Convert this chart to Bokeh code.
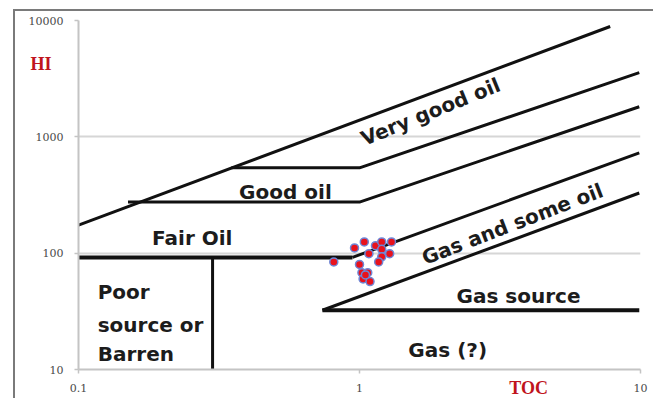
from bokeh.plotting import figure
from bokeh.models import (Range1d, FixedTicker, NumeralTickFormatter, LogAxis,
                          CustomJSTickFormatter, ColumnDataSource)
from bokeh.core.properties import value
from bokeh.embed import file_html
from bokeh.resources import INLINE

# Sample measurements: total organic carbon (wt%) and hydrogen index (mg HC/g TOC)
toc = [0.81, 0.96, 1.04, 1.00, 1.08, 1.14, 1.20, 1.30, 1.20, 1.28, 1.20, 1.17, 1.02, 1.07, 1.03, 1.09, 1.05]
hi = [84, 111, 125, 80, 99, 116, 125, 125, 108, 99, 93, 84, 68, 68, 60, 57, 65]

# Axis ticks
toc_ticks = [0.1, 1, 10]
hi_ticks = [10, 100, 1000, 10000]

# Zone boundaries as (TOC, HI) vertices
very_good_top_x = [0.1, 7.8]
very_good_top_y = [174, 8880]
good_top_x = [0.35, 1.0, 9.9]
good_top_y = [541, 541, 3560]
fair_top_x = [0.15, 1.0, 9.9]
fair_top_y = [275, 275, 1815]
fair_bottom_x = [0.1, 0.944]
fair_bottom_y = [92, 92]
gas_oil_top_x = [0.944, 9.9]
gas_oil_top_y = [92, 728]
gas_source_top_x = [0.738, 9.9]
gas_source_top_y = [32.3, 329]
gas_floor_x = [0.738, 9.9]
gas_floor_y = [32.3, 32.3]
poor_edge_x = [0.30, 0.30]
poor_edge_y = [10, 92]

# Zone names
flat_names = ["Good oil", "Fair Oil", "Gas source", "Gas (?)"]
flat_x = [0.545, 0.254, 3.68, 2.06]
flat_y = [336, 134.6, 42.6, 14.6]
poor_lines = ["Poor", "source or", "Barren"]
poor_y = [46.1, 23.9, 13.7]
tilted_names = ["Very good oil", "Gas and some oil"]
tilted_x = [1.79, 3.50]
tilted_y = [1643, 178]
tilted_deg = [22, 21]

# The plot sits inside a grey frame open to the right and bottom
p = figure(width=640, height=389, x_axis_type="log", y_axis_type="log",
           x_range=Range1d(0.1, 10), y_range=Range1d(10, 10000),
           output_backend="svg", toolbar_location=None,
           min_border_left=63, min_border_right=15, min_border_top=9, min_border_bottom=31)
p.margin = (9, 0, 0, 13)
p.styles = {"border-left": "2px solid #7a7a7a", "border-top": "2px solid #7a7a7a"}
p.outline_line_color = None
p.background_fill_color = "white"
p.border_fill_color = "white"

for ax in (p.xaxis[0], p.yaxis[0]):
    ax.axis_line_color = "#c4c4c4"
    ax.axis_line_width = 2
    ax.major_tick_line_color = "#c4c4c4"
    ax.major_tick_line_width = 1.5
    ax.major_tick_in = 0
    ax.major_tick_out = 4
    ax.minor_tick_line_color = None
    ax.major_label_text_font = "DejaVu Serif"
    ax.major_label_text_font_size = "11px"
    ax.major_label_text_color = "#4a4a4a"
    ax.formatter = NumeralTickFormatter(format="0.[0]")
p.xaxis.ticker = FixedTicker(ticks=toc_ticks)
p.yaxis.ticker = FixedTicker(ticks=hi_ticks)
p.xaxis.major_label_standoff = 10
p.yaxis.major_label_standoff = 11

p.xgrid.grid_line_color = None
p.ygrid.ticker = FixedTicker(ticks=hi_ticks)
p.ygrid.grid_line_color = "#d6d6d6"
p.ygrid.grid_line_width = 2


def title_axis(text, at, standoff):
    # A bare axis carrying one tick whose label is the axis title
    ax = LogAxis(ticker=FixedTicker(ticks=[at]),
                 formatter=CustomJSTickFormatter(code="return '%s'" % text))
    ax.axis_line_color = None
    ax.major_tick_line_color = None
    ax.minor_tick_line_color = None
    ax.major_tick_in = 0
    ax.major_tick_out = 0
    ax.major_label_standoff = standoff
    ax.major_label_text_font = "Liberation Serif"
    ax.major_label_text_font_size = "18px"
    ax.major_label_text_font_style = "bold"
    ax.major_label_text_color = "#c0141c"
    return ax


p.add_layout(title_axis("HI", 4200, -26), "left")
p.add_layout(title_axis("TOC", 4, -17), "below")

# Zone boundary lines
diag = dict(line_color="#111111", line_width=3, line_join="round")
p.line(very_good_top_x, very_good_top_y, **diag)
p.line(good_top_x, good_top_y, **diag)
p.line(fair_top_x, fair_top_y, **diag)
p.line(gas_oil_top_x, gas_oil_top_y, **diag)
p.line(gas_source_top_x, gas_source_top_y, **diag)
p.line(fair_bottom_x, fair_bottom_y, line_color="#111111", line_width=4)
p.line(gas_floor_x, gas_floor_y, line_color="#111111", line_width=4)
p.line(poor_edge_x, poor_edge_y, line_color="#111111", line_width=3)

# Samples
p.scatter(toc, hi, size=8, fill_color="#e8121c", line_color="#6f86d6", line_width=1.5)

# Zone labels
font = value("DejaVu Sans")
p.text(flat_x, flat_y, text=flat_names, text_font=font, text_font_size="20px",
       text_font_style="bold", text_color="#1c1c1c", text_align="center",
       text_baseline="alphabetic")
p.text([0.117] * 3, poor_y, text=poor_lines, text_font=font, text_font_size="20px",
       text_font_style="bold", text_color="#1c1c1c", text_align="left",
       text_baseline="alphabetic")
tsrc = ColumnDataSource(dict(x=tilted_x, y=tilted_y, t=tilted_names,
                             a=[d * 3.14159265 / 180 for d in tilted_deg]))
p.text("x", "y", text="t", angle="a", source=tsrc, text_font=font,
       text_font_size="20px", text_font_style="bold", text_color="#1c1c1c",
       text_align="center", text_baseline="middle")

open("out.html", "w").write(file_html(p, INLINE))
